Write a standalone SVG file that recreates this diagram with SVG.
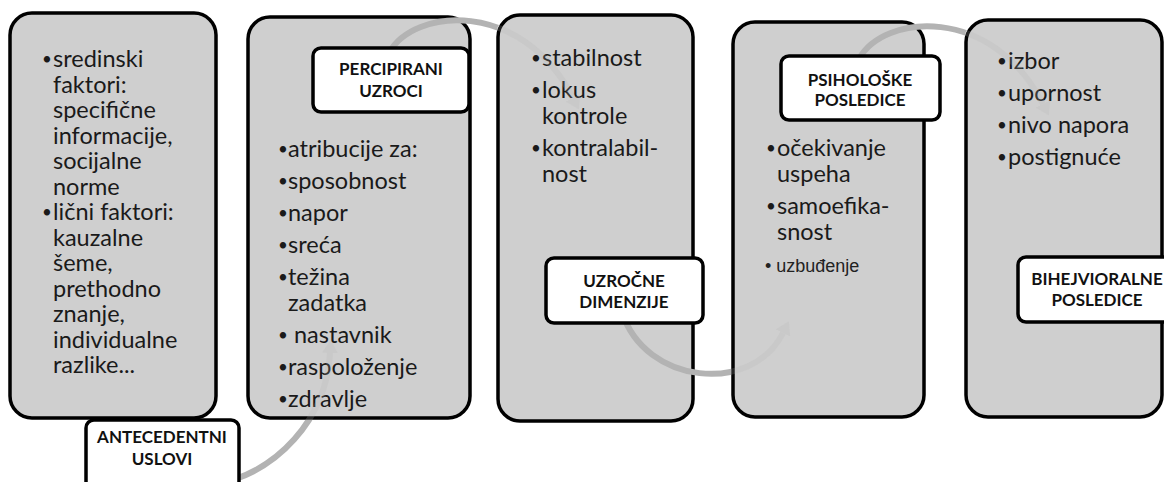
<svg xmlns="http://www.w3.org/2000/svg" width="1164" height="482" viewBox="0 0 1164 482">
<style>
.box{fill:#cfcfcf;stroke:#000;stroke-width:3.5}
.lbl{fill:#fff;stroke:#000;stroke-width:3.5}
.t{font-family:Lato,"Open Sans",sans-serif;font-size:23.5px;fill:#1a1a1a}
.b{font-size:17px}
.s{font-family:"Liberation Sans",Arial,sans-serif;font-size:18px;fill:#222}
.lt{font-family:Lato,"Open Sans",sans-serif;font-weight:700;font-size:17px;fill:#111;text-anchor:middle}
.arc{fill:none;stroke:#b3b3b3;stroke-width:6}
</style>
<defs>
<marker id="ah" markerUnits="userSpaceOnUse" markerWidth="13" markerHeight="16" viewBox="0 0 13 16" refX="0" refY="8" orient="auto">
<path d="M0,0 L13,8 L0,16 z" fill="#b3b3b3"/>
</marker>
<mask id="m1" maskUnits="userSpaceOnUse" x="0" y="0" width="1164" height="482"><rect width="1164" height="482" fill="#fff"/><rect x="246" y="15" width="226" height="405" rx="23" fill="#333"/></mask>
<mask id="m2" maskUnits="userSpaceOnUse" x="0" y="0" width="1164" height="482"><rect width="1164" height="482" fill="#fff"/><rect x="496" y="13" width="199" height="410" rx="23" fill="#333"/></mask>
<mask id="m3" maskUnits="userSpaceOnUse" x="0" y="0" width="1164" height="482"><rect width="1164" height="482" fill="#fff"/><rect x="731" y="20" width="195" height="399" rx="23" fill="#333"/></mask>
<mask id="m4" maskUnits="userSpaceOnUse" x="0" y="0" width="1164" height="482"><rect width="1164" height="482" fill="#fff"/><rect x="964" y="18" width="202" height="401" rx="23" fill="#333"/></mask>
</defs>

<g id="antecedentni">
<rect class="box" x="10" y="13" width="206" height="405" rx="22"/>
<text class="t">
<tspan class="b" x="42" y="65">•</tspan><tspan x="53" y="67">sredinski</tspan>
<tspan x="53" y="92.5">faktori:</tspan>
<tspan x="53" y="118">specifične</tspan>
<tspan x="53" y="143.5">informacije,</tspan>
<tspan x="53" y="169">socijalne</tspan>
<tspan x="53" y="194.5">norme</tspan>
<tspan class="b" x="42" y="218">•</tspan><tspan x="53" y="220">lični faktori:</tspan>
<tspan x="53" y="245.5">kauzalne</tspan>
<tspan x="53" y="271">šeme,</tspan>
<tspan x="53" y="296.5">prethodno</tspan>
<tspan x="53" y="322">znanje,</tspan>
<tspan x="53" y="347.5">individualne</tspan>
<tspan x="53" y="373">razlike...</tspan>
</text>
</g>

<g id="percipirani">
<rect class="box" x="248" y="17" width="222" height="401" rx="22"/>
<text class="t">
<tspan class="b" x="278" y="155">•</tspan><tspan x="288" y="157">atribucije za:</tspan>
<tspan class="b" x="278" y="187">•</tspan><tspan x="288" y="189">sposobnost</tspan>
<tspan class="b" x="278" y="219">•</tspan><tspan x="288" y="221">napor</tspan>
<tspan class="b" x="278" y="251">•</tspan><tspan x="288" y="253">sreća</tspan>
<tspan class="b" x="278" y="283">•</tspan><tspan x="288" y="285">težina</tspan>
<tspan x="288" y="311">zadatka</tspan>
<tspan class="b" x="278" y="341">•</tspan><tspan x="294" y="343">nastavnik</tspan>
<tspan class="b" x="278" y="373">•</tspan><tspan x="288" y="375">raspoloženje</tspan>
<tspan class="b" x="278" y="405">•</tspan><tspan x="288" y="407">zdravlje</tspan>
</text>
</g>

<g id="uzrocne">
<rect class="box" x="498" y="15" width="195" height="406" rx="22"/>
<text class="t">
<tspan class="b" x="531" y="64">•</tspan><tspan x="542" y="66">stabilnost</tspan>
<tspan class="b" x="531" y="96">•</tspan><tspan x="542" y="98">lokus</tspan>
<tspan x="542" y="124">kontrole</tspan>
<tspan class="b" x="531" y="154">•</tspan><tspan x="542" y="156">kontralabil-</tspan>
<tspan x="542" y="182">nost</tspan>
</text>
</g>

<g id="psiholoske">
<rect class="box" x="733" y="22" width="191" height="395" rx="22"/>
<text class="t">
<tspan class="b" x="766" y="154">•</tspan><tspan x="777" y="156">očekivanje</tspan>
<tspan x="777" y="182">uspeha</tspan>
<tspan class="b" x="766" y="212">•</tspan><tspan x="777" y="214">samoefika-</tspan>
<tspan x="777" y="240">snost</tspan>
</text>
<text class="s" x="765" y="272">• uzbuđenje</text>
</g>

<g id="bihejvioralne">
<rect class="box" x="966" y="20" width="196" height="397" rx="22"/>
<text class="t">
<tspan class="b" x="997" y="67">•</tspan><tspan x="1008" y="69">izbor</tspan>
<tspan class="b" x="997" y="99">•</tspan><tspan x="1008" y="101">upornost</tspan>
<tspan class="b" x="997" y="131">•</tspan><tspan x="1008" y="133">nivo napora</tspan>
<tspan class="b" x="997" y="163">•</tspan><tspan x="1008" y="165">postignuće</tspan>
</text>
</g>

<g id="connectors">
<path class="arc" mask="url(#m1)" marker-end="url(#ah)" d="M212.7,484.8 A142,142 0 0 0 330,353"/>
<path class="arc" mask="url(#m2)" marker-end="url(#ah)" d="M389,53 C413,8 522,-2 573,98"/>
<path class="arc" mask="url(#m3)" marker-end="url(#ah)" d="M622,312 C645,385 752,395 783,333"/>
<path class="arc" mask="url(#m4)" marker-end="url(#ah)" d="M859,59 C883,14 992,4 1043,104"/>
</g>

<g id="label-antecedentni">
<rect class="lbl" x="86" y="420" width="153" height="70" rx="8"/>
<text class="lt" x="162" y="443">ANTECEDENTNI</text>
<text class="lt" x="162" y="465">USLOVI</text>
</g>
<g id="label-percipirani">
<rect class="lbl" x="313" y="48" width="156" height="64" rx="8"/>
<text class="lt" x="391" y="75">PERCIPIRANI</text>
<text class="lt" x="391" y="97">UZROCI</text>
</g>
<g id="label-uzrocne">
<rect class="lbl" x="546" y="258" width="157" height="65" rx="8"/>
<text class="lt" x="624" y="287">UZROČNE</text>
<text class="lt" x="624" y="308">DIMENZIJE</text>
</g>
<g id="label-psiholoske">
<rect class="lbl" x="781" y="56" width="159" height="64" rx="8"/>
<text class="lt" x="860" y="86">PSIHOLOŠKE</text>
<text class="lt" x="860" y="106">POSLEDICE</text>
</g>
<g id="label-bihejvioralne">
<rect class="lbl" x="1018" y="257" width="160" height="65" rx="8"/>
<text class="lt" x="1097" y="285">BIHEJVIORALNE</text>
<text class="lt" x="1097" y="306">POSLEDICE</text>
</g>
</svg>
